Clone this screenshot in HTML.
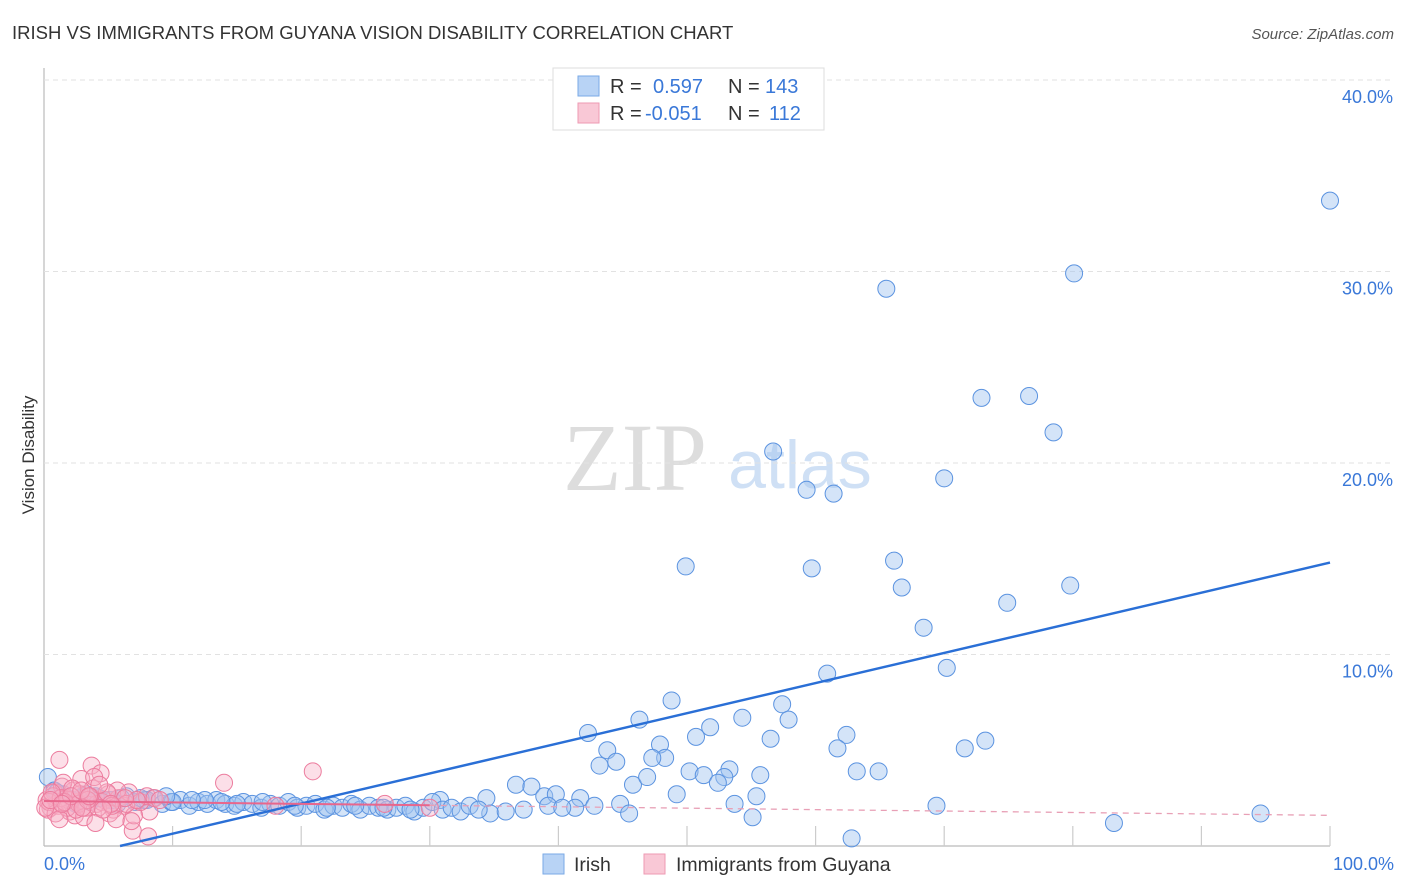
<!DOCTYPE html>
<html><head><meta charset="utf-8">
<style>
body{margin:0;background:#fff;font-family:"Liberation Sans",sans-serif;}
#wrap{position:relative;width:1406px;height:892px;overflow:hidden;}
</style></head>
<body>
<div id="wrap">
<svg id="chart" width="1406" height="892">
  <text x="12" y="39" font-size="18.5" fill="#333">IRISH VS IMMIGRANTS FROM GUYANA VISION DISABILITY CORRELATION CHART</text>
  <text x="1394" y="39" font-size="15" fill="#555" font-style="italic" text-anchor="end">Source: ZipAtlas.com</text>
  <text x="34" y="455" font-size="17" fill="#333" text-anchor="middle" transform="rotate(-90 34 455)">Vision Disability</text>
  <g>
    <text x="635" y="490" font-size="96" fill="#ddd" font-family="Liberation Serif,serif" text-anchor="middle">ZIP</text>
    <text x="800" y="488" font-size="68" fill="#cfe0f5" text-anchor="middle">atlas</text>
  </g>
  <g id="grid"></g>
  <g id="pts"></g>
  <g id="lines"></g>
  <g>
    <rect x="553" y="68" width="271" height="62" fill="#fff" stroke="#ddd"/>
    <rect x="578" y="76" width="21" height="20" fill="#b8d3f5" stroke="#7aaae6"/>
    <rect x="578" y="103" width="21" height="20" fill="#f9c8d6" stroke="#ee9ab3"/>
    <text x="610" y="93" font-size="20" fill="#333">R =</text>
    <text x="653" y="93" font-size="20" fill="#3a78d8">0.597</text>
    <text x="728" y="93" font-size="20" fill="#333">N =</text>
    <text x="765" y="93" font-size="20" fill="#3a78d8">143</text>
    <text x="610" y="120" font-size="20" fill="#333">R =</text>
    <text x="645" y="120" font-size="20" fill="#3a78d8">-0.051</text>
    <text x="728" y="120" font-size="20" fill="#333">N =</text>
    <text x="769" y="120" font-size="20" fill="#3a78d8">112</text>
  </g>
  <g>
    <rect x="543" y="854" width="21" height="20" fill="#b8d3f5" stroke="#7aaae6"/>
    <text x="574" y="871" font-size="19.5" fill="#333">Irish</text>
    <rect x="644" y="854" width="21" height="20" fill="#f9c8d6" stroke="#ee9ab3"/>
    <text x="676" y="871" font-size="19.5" fill="#333">Immigrants from Guyana</text>
  </g>
  <text x="44" y="870" font-size="18" fill="#3a78d8">0.0%</text>
  <text x="1394" y="870" font-size="18" fill="#3a78d8" text-anchor="end">100.0%</text>
</svg>
</div>
<script>
const yTicks=[10,20,30,40];
const yTickLabels=["10.0%","20.0%","30.0%","40.0%"];
const xTicks=[10,20,30,40,50,60,70,80,90,100];
const irishX=[100,80.1,65.5,72.9,76.6,78.5,56.7,70.0,59.3,61.4,49.9,59.7,66.1,66.7,79.8,74.9,68.4,60.9,70.2,48.8,57.4,46.3,54.3,51.8,57.9,42.3,50.7,56.5,62.4,47.9,73.2,71.6,61.7,43.8,48.3,43.2,44.5,47.3,50.2,51.3,53.3,52.9,55.7,63.2,64.9,45.8,52.4,46.9,36.7,37.9,49.2,55.4,38.9,39.8,41.7,53.7,44.8,69.4,42.8,55.1,45.5,83.2,94.6,62.8,39.2,41.3,30.8,34.4,34.7,35.9,37.3,40.3,
0.3,0.8,1.5,2.2,3.0,3.6,4.3,5.0,5.7,6.4,7.1,7.8,8.5,9.2,9.9,10.6,11.3,12.0,12.7,13.4,14.1,14.8,15.5,16.2,16.9,17.6,18.3,19.0,19.7,20.4,21.1,21.8,22.5,23.2,23.9,24.6,25.3,26.0,26.7,27.4,28.1,28.8,29.5,30.2,31.0,31.7,32.4,33.1,33.8,2.5,4.0,6.0,8.0,10.0,12.5,15.0,17.0,19.5,22.0,24.2,26.4,28.5,1.0,3.3,5.3,7.5,9.5,11.5,13.8];
const irishY=[33.7,29.9,29.1,23.4,23.5,21.6,20.6,19.2,18.6,18.4,14.6,14.5,14.9,13.5,13.6,12.7,11.4,9.0,9.3,7.6,7.4,6.6,6.7,6.2,6.6,5.9,5.7,5.6,5.8,5.3,5.5,5.1,5.1,5.0,4.6,4.2,4.4,4.6,3.9,3.7,4.0,3.6,3.7,3.9,3.9,3.2,3.3,3.6,3.2,3.1,2.7,2.6,2.6,2.7,2.5,2.2,2.2,2.1,2.1,1.5,1.7,1.2,1.7,0.4,2.1,2.0,2.4,2.5,1.7,1.8,1.9,2.0,
3.6,2.9,2.7,2.4,2.6,2.3,2.5,2.4,2.2,2.6,2.3,2.4,2.5,2.2,2.3,2.4,2.1,2.3,2.2,2.4,2.2,2.1,2.3,2.2,2.0,2.2,2.1,2.3,2.0,2.1,2.2,1.9,2.1,2.0,2.2,1.9,2.1,2.0,1.9,2.0,2.1,1.8,2.0,2.3,1.9,2.0,1.8,2.1,1.9,2.2,2.6,2.5,2.4,2.3,2.4,2.2,2.3,2.1,2.0,2.1,2.0,1.9,2.8,2.7,2.4,2.5,2.6,2.4,2.3];
const guyX=[1.2,3.7,20.9,14.0,18.0,30.0,26.5,8.2,6.9,8.1,0.2,0.5,0.8,1.0,1.4,1.7,2.0,2.3,2.6,2.9,3.2,3.5,3.8,4.1,4.4,4.7,5.0,5.4,5.8,6.2,6.6,7.0,7.5,8.0,0.3,0.7,1.1,1.5,1.9,2.4,2.8,3.3,3.9,4.5,5.1,5.7,6.4,7.2,0.4,0.9,1.3,1.8,2.2,2.7,3.1,3.6,4.2,4.9,5.6,6.3,0.6,1.6,2.5,3.4,4.3,5.3,6.8,8.6,1.2,2.1,3.0,4.0,5.2,0.1,9.0,2.9,4.6,0.5,1.4,3.5];
const guyY=[4.5,4.2,3.9,3.3,2.1,2.0,2.2,1.8,0.8,0.5,2.4,2.0,2.8,2.2,3.1,2.5,1.8,2.9,2.3,3.5,2.0,2.6,3.0,2.2,3.8,2.4,2.7,1.9,2.5,2.1,2.8,1.6,2.3,2.6,1.9,2.6,2.1,3.3,2.4,1.6,2.7,2.0,3.6,2.3,1.7,2.9,2.2,2.4,2.3,1.7,2.5,2.0,3.0,2.2,1.5,2.6,2.0,2.8,1.4,2.5,2.8,2.3,1.9,2.4,3.2,2.1,1.3,2.5,1.4,2.6,2.0,1.2,2.2,2.0,2.4,2.9,1.9,2.4,2.2,2.6];
const irishFit=[-0.93,14.8];
const guyFit=[2.35,1.6];
const NS='http://www.w3.org/2000/svg';
const X0=44,X1=1330,Y0=846,PY=19.15;
function sx(v){return X0+(X1-X0)*v/100;}
function sy(v){return Y0-v*PY;}
function mk(t,a,p){const e=document.createElementNS(NS,t);for(const k in a)e.setAttribute(k,a[k]);p.appendChild(e);return e;}
const grid=document.getElementById('grid');
const ax=mk('line',{x1:X0,y1:68,x2:X0,y2:Y0,stroke:'#bbb','stroke-width':1.2},grid);


const bx=mk('line',{x1:X0,y1:Y0,x2:X1,y2:Y0,stroke:'#bbb','stroke-width':1.2},grid);


yTicks.forEach((t,i)=>{
 const g=mk('line',{x1:X0,y1:sy(t),x2:1394,y2:sy(t),stroke:'#e2e2e2','stroke-dasharray':'5,4'},grid);
 
 
 const tx=mk('text',{x:1393,y:sy(t)+23,'font-size':18,fill:'#3a78d8','text-anchor':'end'},grid);
 tx.textContent=yTickLabels[i];
 
 
});
xTicks.forEach(t=>{
 const l=mk('line',{x1:sx(t),y1:Y0-20,x2:sx(t),y2:Y0,stroke:'#ccc','stroke-width':1.2},grid);
 
 
});
const pts=document.getElementById('pts');
irishX.forEach((x,i)=>{
 const c=mk('circle',{cx:sx(x),cy:sy(irishY[i]),r:8.5,fill:'rgba(160,196,240,0.45)',stroke:'#5b93e0','stroke-width':1},pts);
 
 
});
guyX.forEach((x,i)=>{
 const c=mk('circle',{cx:sx(x),cy:sy(guyY[i]),r:8.5,fill:'rgba(248,175,198,0.4)',stroke:'#ec7c9e','stroke-width':1},pts);
 
 
});
const lines=document.getElementById('lines');
const xs=-irishFit[0]/(irishFit[1]-irishFit[0])*100;
const rl=mk('line',{x1:sx(xs),y1:sy(0),x2:sx(100),y2:sy(irishFit[1]),stroke:'#2a6fd6','stroke-width':2.5},lines);


const gAt=v=>guyFit[0]+(guyFit[1]-guyFit[0])*v/100;
const pl=mk('line',{x1:sx(0),y1:sy(gAt(0)),x2:sx(30),y2:sy(gAt(30)),stroke:'#e8668c','stroke-width':2},lines);


const pd=mk('line',{x1:sx(30),y1:sy(gAt(30)),x2:sx(100),y2:sy(gAt(100)),stroke:'#e8a0b6','stroke-width':1.3,'stroke-dasharray':'6,5'},lines);


</script>
</body></html>
